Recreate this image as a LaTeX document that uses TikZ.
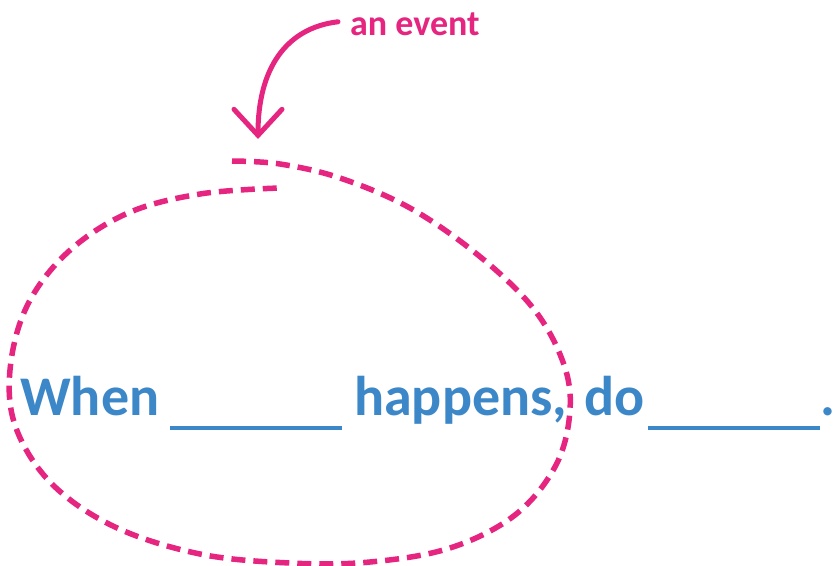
\documentclass[tikz,border=0pt]{standalone}
\usepackage{fontspec}
\setmainfont{Carlito}
\usetikzlibrary{arrows.meta}
\definecolor{evpink}{RGB}{229,37,128}
\definecolor{sblue}{RGB}{60,135,200}
\tikzset{
  word/.style={font=\fontsize{56}{60}\selectfont\bfseries, text=sblue, inner sep=0pt, anchor=base west},
  blank/.style={draw=sblue, line width=3.2pt},
  loopline/.style={draw=evpink, line width=5.5pt, dash pattern=on 14pt off 8pt},
  notelabel/.style={font=\fontsize{36}{40}\selectfont\bfseries, text=evpink, inner sep=0pt, anchor=base west},
  notearrow/.style={draw=evpink, line width=5pt, line cap=round, -{Straight Barb[length=26pt,width=48pt,line cap=round]}}
}
\begin{document}
\begin{tikzpicture}[x=1pt,y=-1pt]
\useasboundingbox (0,0) rectangle (835,565);
\fill[white] (0,0) rectangle (835,565);
% sentence
\node[word] (when) at (20,415) {When};
\node[word] (happens) at (354,415) {happens,};
\node[word] (do) at (584,415) {do};
\node[word] (dot) at (820,415) {.};
\coordinate (b1s) at (170,428); \coordinate (b1e) at (342,428);
\coordinate (b2s) at (648,428); \coordinate (b2e) at (820,428);
\draw[blank] (b1s) -- (b1e);
\draw[blank] (b2s) -- (b2e);
% dashed loop around the event
\draw[loopline] plot[smooth, tension=0.6] coordinates {
 (232,161) (280,164) (340,178) (410,208) (478,255) (533,308) (563,362) (570,410)
 (556,465) (515,515) (450,548) (370,562) (290,563) (200,554) (115,527) (52,484)
 (16,428) (10,370) (27,306) (68,252) (128,213) (200,194) (279,188)};
% label and arrow
\node[notelabel] (ev) at (350,35) {an event};
\coordinate (tip) at (258,139);
\draw[notearrow] (ev.west) ++(-12,-2) coordinate (astart) .. controls (285,28) and (258,70) .. (tip);
\end{tikzpicture}
\end{document}
